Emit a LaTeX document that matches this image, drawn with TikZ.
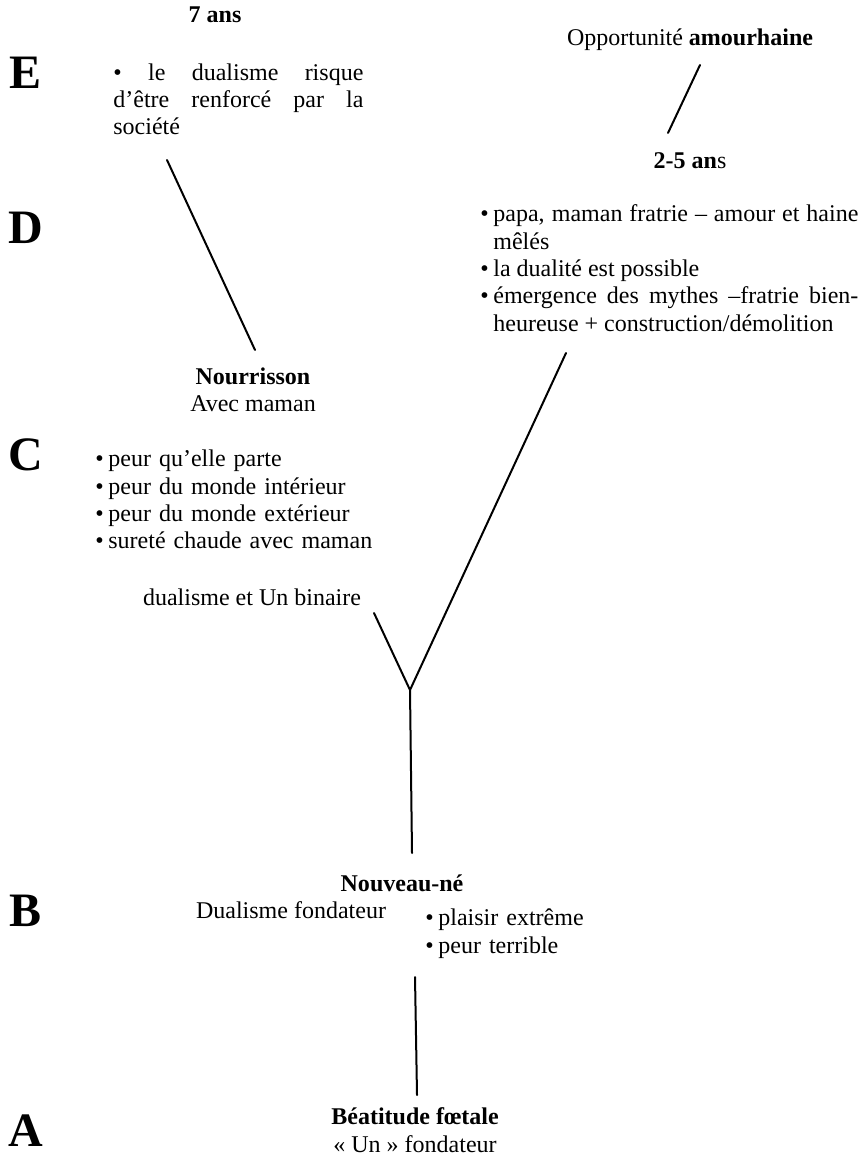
\documentclass[tikz,border=0pt]{standalone}
\usepackage{fontspec}
\setmainfont{Liberation Serif}
\usetikzlibrary{positioning}
\hyphenpenalty=10000\relax
\tikzset{
  stage/.style={
    align=center,
    inner sep=0pt,
    font=\fontsize{12}{13.7}\selectfont
  },
  plain/.style={inner sep=0pt, font=\fontsize{12}{13.7}\selectfont},
  points/.style={
    inner sep=0pt,
    anchor=north west,
    align=justify,
    font=\fontsize{12}{13.7}\selectfont
  },
  level/.style={inner sep=0pt, font=\fontsize{24}{24}\selectfont\bfseries},
  branch/.style={line width=1pt, line cap=round}
}
\newcommand{\itm}{\par\noindent\hangindent=6.5pt\hangafter=1\makebox[6.5pt][l]{•}}

\begin{document}
\begin{tikzpicture}[x=0.5pt, y=-0.5pt]
  \useasboundingbox (0,0) rectangle (863,1159);
  % levels
  \node[level] (lvE) at (26,73) {E};
  \node[level] (lvD) at (26,228) {D};
  \node[level] (lvC) at (26,455) {C};
  \node[level] (lvB) at (26,911) {B};
  \node[level] (lvA) at (26,1131) {A};
  % stages
  \node[stage] (sept)  at (215,15)  {\textbf{7 ans}};
  \node[stage] (oppo)  at (690,40)  {Opportunité \textbf{amourhaine}};
  \node[stage] (deux)  at (690,161) {\textbf{2-5 an}s};
  \node[stage] (nourr) at (253,390) {\textbf{Nourrisson}\\Avec maman};
  \node[plain] (binai) at (252,597) {dualisme et Un binaire};
  \node[stage] (nouv)  at (402,883) {\textbf{Nouveau-né}};
  \node[plain] (dualf) at (291,910) {Dualisme fondateur};
  \node[stage] (foet)  at (415,1130) {\textbf{Béatitude fœtale}\\« Un » fondateur};
  % lists
  \node[points, text width=125pt] (listE) at (113,63)
    {\noindent • le dualisme risque\linebreak d’être renforcé par la\linebreak société};
  \node[points, text width=189pt] (list25) at (480,194)
    {\itm papa, maman fratrie – amour et haine\linebreak mêlés
     \itm la dualité est possible
     \itm émergence des mythes –fratrie bien-\linebreak heureuse + construction/démolition\par};
  \node[points, text width=150pt, align=left] (listC) at (95,439)
    {\itm peur qu’elle parte
     \itm peur du monde intérieur
     \itm peur du monde extérieur
     \itm sureté chaude avec maman\par};
  \node[points, text width=100pt, align=left] (listB) at (425,898)
    {\itm plaisir extrême
     \itm peur terrible\par};
  % branch ends
  \coordinate (socE)  at (167,160);
  \coordinate (topN)  at (255,350);
  \coordinate (botO)  at (700,65);
  \coordinate (topD)  at (668,133);
  \coordinate (myth)  at (566,353);
  \coordinate (bin)   at (374,613);
  \coordinate (fork)  at (410,690);
  \coordinate (topNN) at (412,853);
  \coordinate (botNN) at (415,977);
  \coordinate (topF)  at (417,1095);
  % the tree
  \draw[branch] (socE) -- (topN);
  \draw[branch] (botO) -- (topD);
  \draw[branch] (myth) -- (fork) -- (bin);
  \draw[branch] (fork) -- (topNN);
  \draw[branch] (botNN) -- (topF);
\end{tikzpicture}
\end{document}
